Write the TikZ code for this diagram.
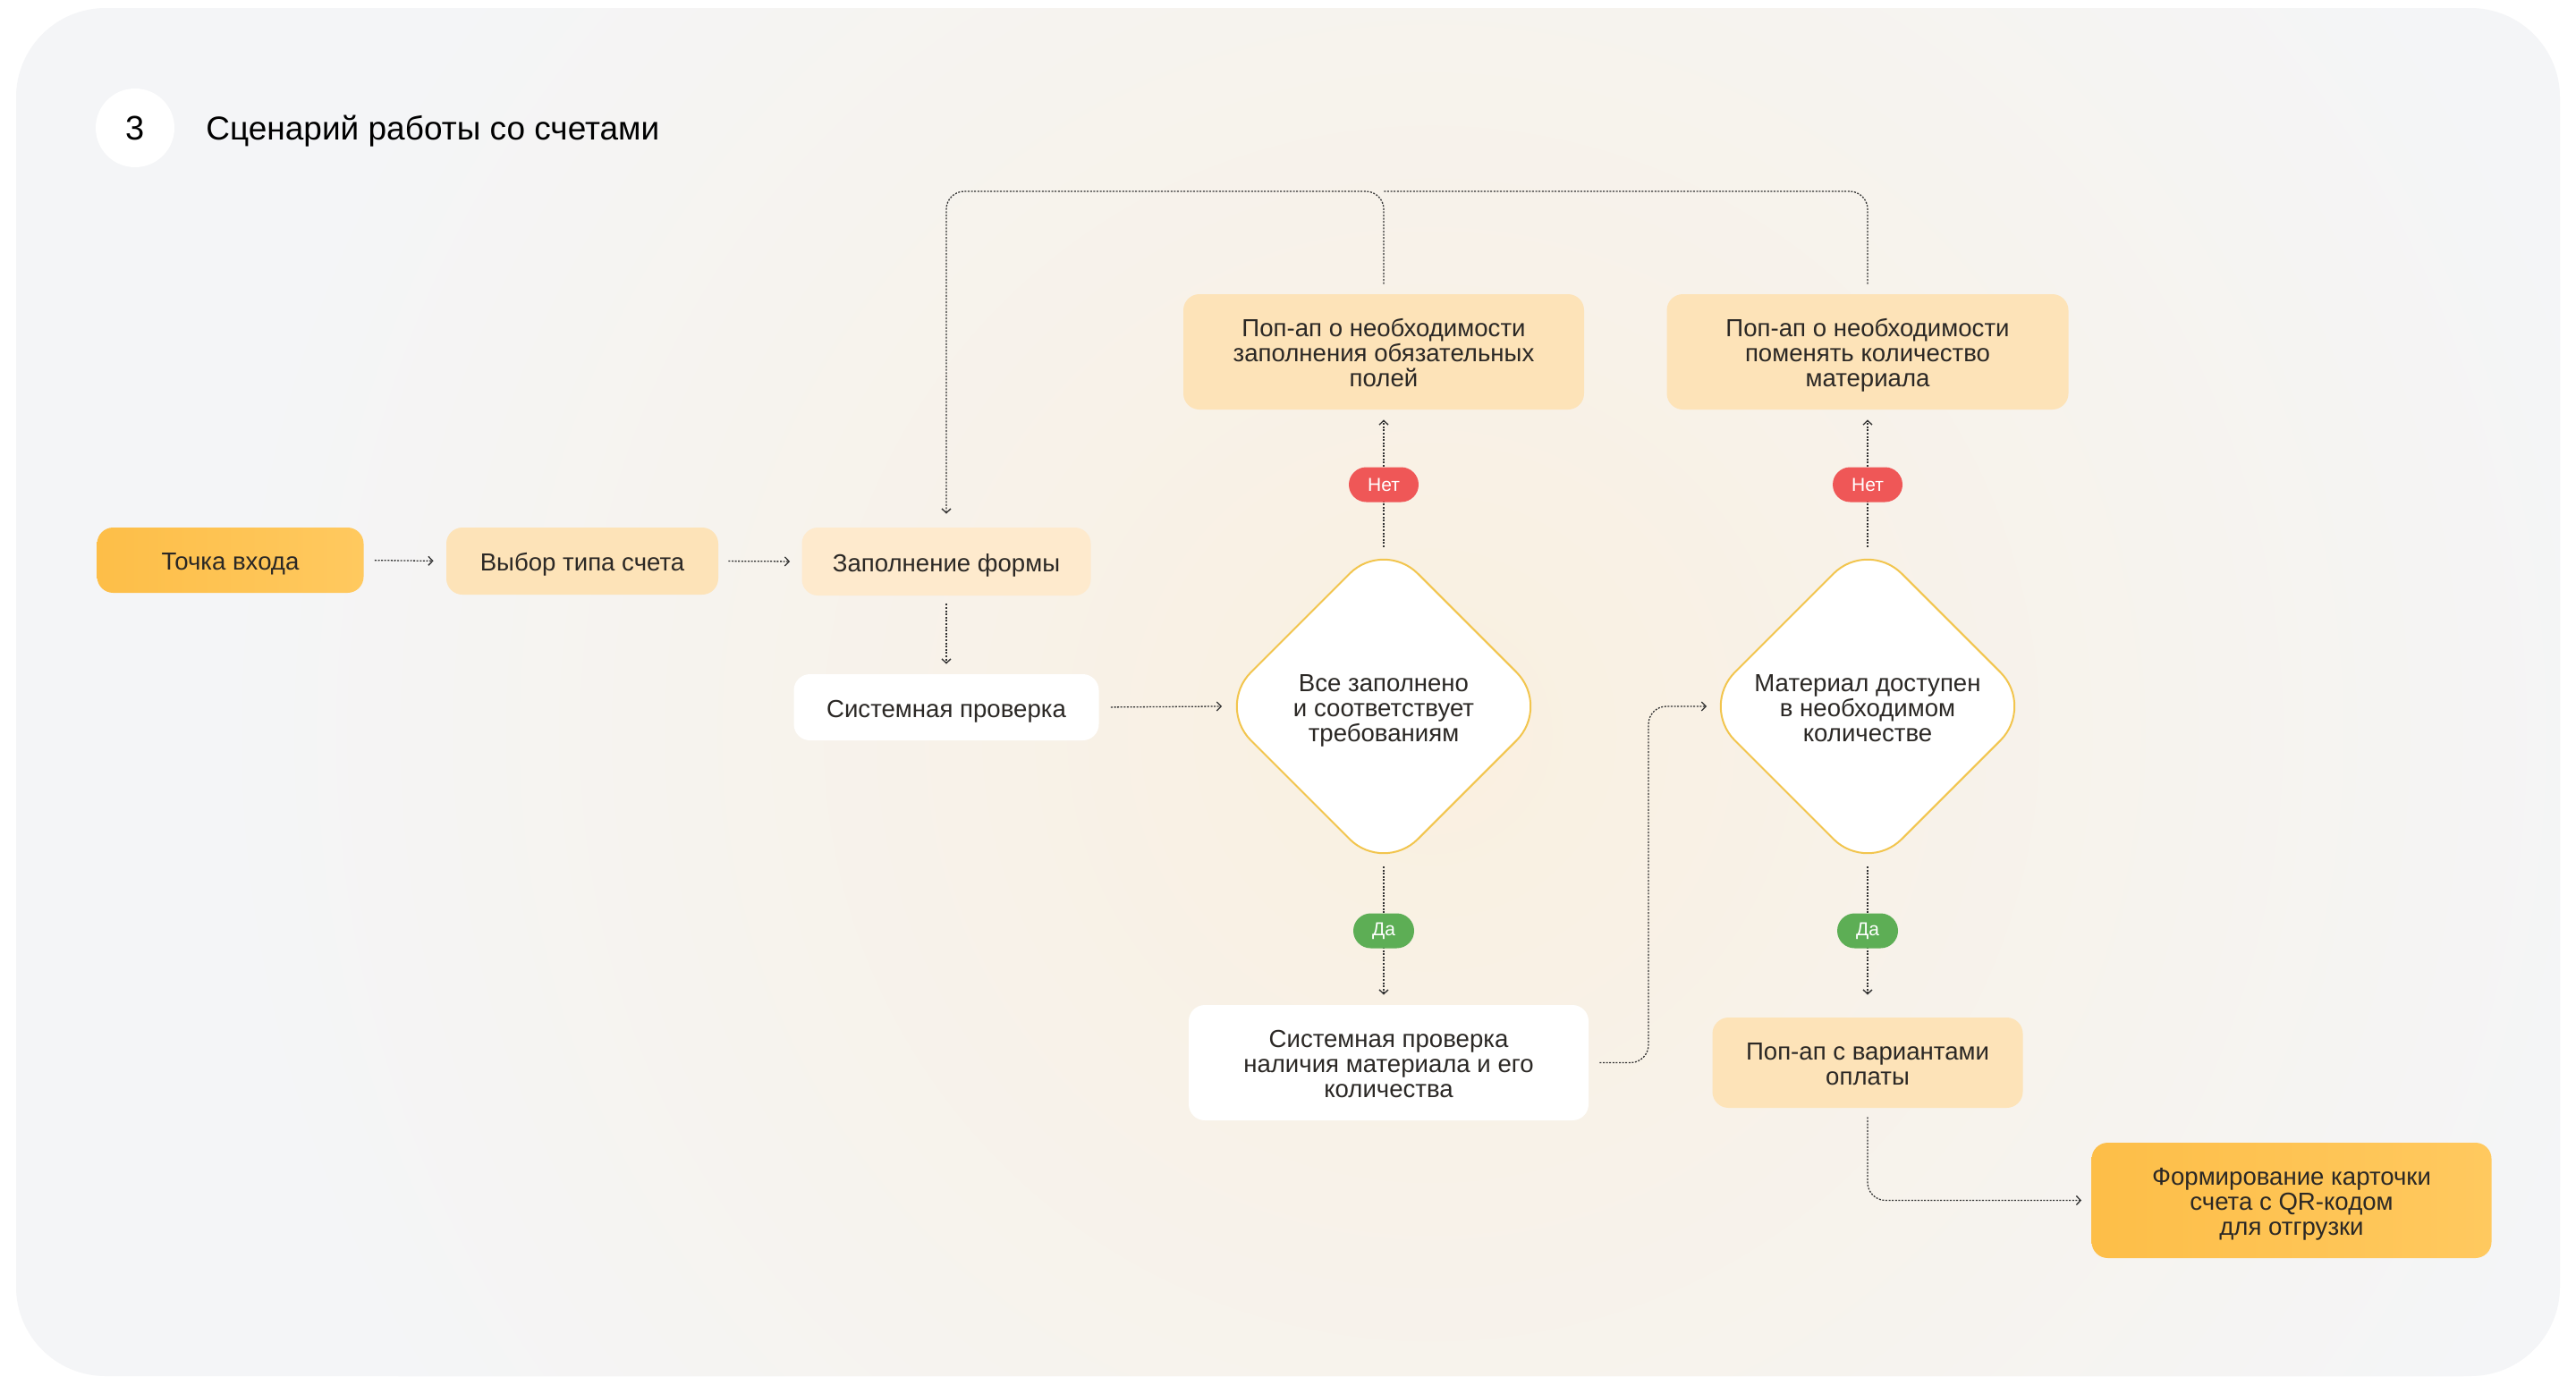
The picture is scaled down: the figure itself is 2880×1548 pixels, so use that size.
\documentclass[tikz,border=0pt]{standalone}
\usepackage{fontspec}
\setmainfont{Liberation Sans}
\usetikzlibrary{arrows.meta,shapes.geometric,calc}
\definecolor{panelc}{HTML}{F4F5F7}
\definecolor{warmc}{HTML}{FAF0E0}
\definecolor{txtc}{HTML}{2B2825}
\definecolor{stronga}{HTML}{FDBE48}
\definecolor{strongb}{HTML}{FFC95F}
\definecolor{peachc}{HTML}{FDE3B8}
\definecolor{peachlt}{HTML}{FEEACD}
\definecolor{dborder}{HTML}{F2C54E}
\definecolor{nored}{HTML}{EF5757}
\definecolor{yesgreen}{HTML}{5DAE55}
\definecolor{lnc}{HTML}{333333}
\newcommand\txl[1]{\raisebox{0pt}[12.6pt][1.4pt]{#1}}
\begin{document}
\begin{tikzpicture}[x=0.5pt,y=-0.5pt,
  basebox/.style={rounded corners=9pt, align=center, text=txtc, inner sep=0pt,
    font=\fontsize{13.8}{14}\selectfont},
  strongbox/.style={basebox, left color=stronga, right color=strongb},
  peachbox/.style={basebox, fill=peachc},
  lightbox/.style={basebox, fill=peachlt},
  whitebox/.style={basebox, fill=white},
  decision/.style={diamond, aspect=1, draw=dborder, line width=1pt, fill=white,
    rounded corners=27pt, inner sep=0pt, minimum width=187pt, minimum height=187pt,
    align=center, text=txtc, font=\fontsize{13.8}{14}\selectfont},
  pill/.style={rounded corners=9.75pt, minimum height=19.5pt, inner sep=0pt,
    text=white, font=\fontsize{10.5}{10.5}\selectfont},
  nopill/.style={pill, fill=nored, minimum width=39pt},
  yespill/.style={pill, fill=yesgreen, minimum width=34pt},
  conn/.style={draw=lnc, line width=0.65pt, dash pattern=on 1pt off 0.8pt,
    rounded corners=10pt, -{Straight Barb[length=2.4pt,width=5pt]}},
  plainconn/.style={draw=lnc, line width=0.65pt, dash pattern=on 1pt off 0.8pt,
    rounded corners=10pt}
]
\useasboundingbox (0,0) rectangle (2880,1548);
\fill[white] (0,0) rectangle (2880,1548);
\fill[panelc, rounded corners=50pt] (18,9) rectangle (2862,1539);
\begin{scope}
  \clip[rounded corners=50pt] (18,9) rectangle (2862,1539);
  \shade[inner color=warmc, outer color=panelc] (1600,820) circle (680pt);
\end{scope}

% header
\node[circle, fill=white, minimum size=44pt, inner sep=0pt, text=black,
  font=\fontsize{19}{19}\selectfont] (num) at (151,143) {3};
\node[anchor=west, inner sep=0pt, text=black, font=\fontsize{18.5}{18.5}\selectfont]
  (title) at (230,146.5) {Сценарий работы со счетами};

% nodes
\node[strongbox, minimum width=149pt, minimum height=36.5pt] (entry) at (257.5,626.5) {\txl{Точка входа}};
\node[peachbox, minimum width=152pt, minimum height=37.5pt] (type) at (651,627.5) {\txl{Выбор типа счета}};
\node[lightbox, minimum width=161.5pt, minimum height=38pt] (form) at (1058,628) {\txl{Заполнение формы}};
\node[whitebox, minimum width=170.5pt, minimum height=37pt] (sys) at (1058,791) {\txl{Системная проверка}};
\node[decision] (d1) at (1547,790) {\txl{Все заполнено}\\\txl{и соответствует}\\\txl{требованиям}};
\node[decision] (d2) at (2088,790) {\txl{Материал доступен}\\\txl{в необходимом}\\\txl{количестве}};
\node[peachbox, minimum width=224pt, minimum height=64.5pt] (pop1) at (1547,393.5)
  {\txl{Поп-ап о необходимости}\\\txl{заполнения обязательных}\\\txl{полей}};
\node[peachbox, minimum width=224.5pt, minimum height=64.5pt] (pop2) at (2088,393.5)
  {\txl{Поп-ап о необходимости}\\\txl{поменять количество}\\\txl{материала}};
\node[whitebox, minimum width=223.5pt, minimum height=64.5pt] (sysmat) at (1552.5,1188.5)
  {\txl{Системная проверка}\\\txl{наличия материала и его}\\\txl{количества}};
\node[peachbox, minimum width=173.5pt, minimum height=50.5pt] (pay) at (2088,1188.5)
  {\txl{Поп-ап с вариантами}\\\txl{оплаты}};
\node[strongbox, minimum width=223.5pt, minimum height=64.5pt] (final) at (2562,1342.5)
  {\txl{Формирование карточки}\\\txl{счета с QR-кодом}\\\txl{для отгрузки}};

\coordinate (ytop) at (0,214);
\coordinate (xturn) at (1843,0);

% connectors
\draw[conn, shorten <=6pt, shorten >=7pt] (entry.east) -- (type.west);
\draw[conn, shorten <=5.5pt, shorten >=6.5pt] (type.east) -- (form.west);
\draw[conn, shorten <=4.5pt, shorten >=5.5pt] (form.south) -- (sys.north);
\draw[conn, shorten <=6.5pt, shorten >=-3.5pt] (sys.east) -- (d1.west);
\draw[conn, shorten <=-5pt, shorten >=5.5pt] (d1.north) -- (pop1.south);
\draw[conn, shorten <=-5pt, shorten >=5.5pt] (d2.north) -- (pop2.south);
\draw[conn, shorten <=-4.5pt, shorten >=5.5pt] (d1.south) -- (d1.south |- sysmat.north);
\draw[conn, shorten <=-4.5pt, shorten >=12.5pt] (d2.south) -- (pay.north);
\draw[conn, shorten <=6pt, shorten >=-4pt] (sysmat.east) -- (sysmat.east -| xturn) |- (d2.west);
\draw[conn, shorten <=5pt, shorten >=5.5pt] (pay.south) |- (final.west);
\draw[conn, shorten <=5.5pt, shorten >=7.5pt] (pop1.north) -- (pop1.north |- ytop) -| (form.north);
\draw[plainconn, shorten <=5.5pt] (pop2.north) |- (pop1.north |- ytop);

% labels
\node[nopill] (no1) at (1547,542) {Нет};
\node[nopill] (no2) at (2088,542) {Нет};
\node[yespill] (yes1) at (1547,1041) {Да};
\node[yespill] (yes2) at (2088,1041) {Да};
\end{tikzpicture}
\end{document}
